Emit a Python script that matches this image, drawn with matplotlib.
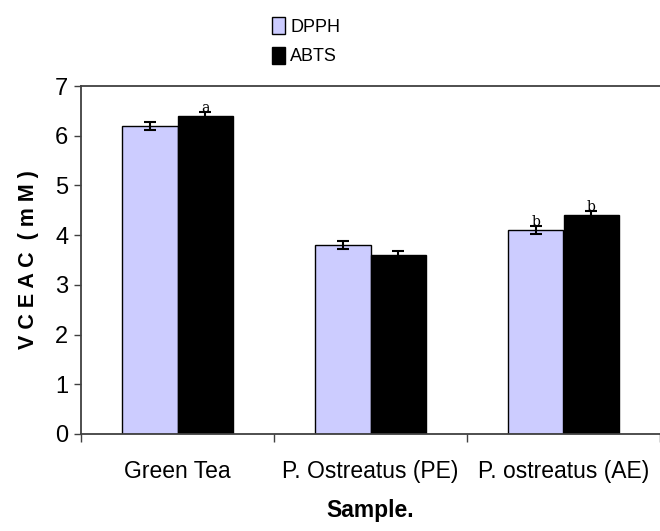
import matplotlib
matplotlib.use("Agg")
import matplotlib.pyplot as plt
import numpy as np

categories = ["Green Tea", "P. Ostreatus (PE)", "P. ostreatus (AE)"]
dpph = [6.2, 3.8, 4.1]
abts = [6.4, 3.6, 4.4]
dpph_err = [0.08, 0.08, 0.08]
abts_err = [0.07, 0.09, 0.08]
dpph_letters = ["", "", "b"]
abts_letters = ["a", "", "b"]
yticks = [0, 1, 2, 3, 4, 5, 6, 7]

plt.rcParams['font.family'] = ['Liberation Sans', 'DejaVu Sans']

fig = plt.figure(figsize=(6.6, 5.31), dpi=100)
ax = fig.add_axes([81/660, (531-434)/531, 579/660, 348/531])

x = np.arange(len(categories))
w = 0.285
b1 = ax.bar(x - w/2, dpph, w, color='#CCCCFF', edgecolor='black', linewidth=1.0, label='DPPH')
b2 = ax.bar(x + w/2, abts, w, color='black', edgecolor='black', linewidth=1.0, label='ABTS')
ax.errorbar(x - w/2, dpph, yerr=dpph_err, fmt='none', ecolor='black', elinewidth=1.5, capsize=4, capthick=1.5)
ax.errorbar(x + w/2, abts, yerr=abts_err, fmt='none', ecolor='black', elinewidth=1.5, capsize=4, capthick=1.5)

for xi, v, e, t in zip(x - w/2, dpph, dpph_err, dpph_letters):
    if t:
        ax.text(xi, v + e - 0.06, t, ha='center', va='bottom', fontsize=10, family='DejaVu Serif')
for xi, v, e, t in zip(x + w/2, abts, abts_err, abts_letters):
    if t:
        ax.text(xi, v + e - 0.06, t, ha='center', va='bottom', fontsize=10, family='DejaVu Serif')

ax.set_xlim(-0.5, 2.5)
ax.set_ylim(0, 7)
ax.set_yticks(yticks)
ax.set_yticklabels([str(t) for t in yticks], fontsize=17)
ax.set_xticks(x)
ax.set_xticklabels(categories, fontsize=16.5)
ax.tick_params(axis='x', length=0, pad=19)
ax.set_xticks([-0.5, 0.5, 1.5, 2.5], minor=True)
ax.tick_params(axis='x', which='minor', length=6, width=1, color='#404040', direction='out')
ax.tick_params(axis='y', length=5, width=1, color='#404040', direction='out', pad=4)

for s in ['left', 'bottom', 'top']:
    ax.spines[s].set_color('#404040')
    ax.spines[s].set_linewidth(1.3)
ax.spines['right'].set_visible(False)

ax.set_xlabel("Sample.", fontsize=16.5, fontweight='bold', labelpad=11)
ax.set_ylabel("V C E A C  ( m M )", fontsize=15.5, fontweight='bold', labelpad=12)

fig.legend(handles=[b1, b2], labels=['DPPH', 'ABTS'], loc='upper left',
           bbox_to_anchor=(272/660, 1 - 17/531), frameon=False, fontsize=13,
           handlelength=0.7, handleheight=1.1, handletextpad=0.3, labelspacing=0.6,
           borderpad=0, borderaxespad=0)

fig.savefig("out.png", dpi=100)
